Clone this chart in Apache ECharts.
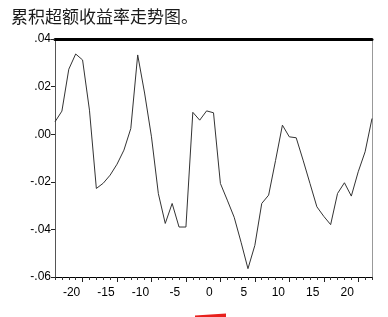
<!DOCTYPE html>
<html>
<head>
<meta charset="utf-8">
<script src="https://cdn.jsdelivr.net/npm/echarts@6/dist/echarts.min.js"></script>
<style>
html,body{margin:0;padding:0;background:#fff;}
#chart{width:388px;height:317px;}
</style>
</head>
<body>
<div id="chart"></div>
<script>
// Event-time offsets (days relative to event)
const days = [-24,-23,-22,-21,-20,-19,-18,-17,-16,-15,-14,-13,-12,-11,-10,-9,-8,-7,-6,-5,-4,-3,-2,-1,0,1,2,3,4,5,6,7,8,9,10,11,12,13,14,15,16,17,18,19,20,21,22];
// Cumulative abnormal return
const car = [0.0052,0.0097,0.0273,0.0337,0.0312,0.0101,-0.0228,-0.0206,-0.0172,-0.0126,-0.0067,0.0024,0.0333,0.0173,-0.0011,-0.0250,-0.0375,-0.0291,-0.0390,-0.0390,0.0092,0.0059,0.0098,0.0090,-0.0207,-0.0277,-0.0349,-0.0454,-0.0565,-0.0467,-0.0291,-0.0256,-0.0111,0.0038,-0.0011,-0.0015,-0.0109,-0.0207,-0.0305,-0.0345,-0.0380,-0.0249,-0.0204,-0.0260,-0.0158,-0.0074,0.0066];
const xTickLabels = [-20,-15,-10,-5,0,5,10,15,20];
const xMin = -24, xMax = 22;
const yMin = -0.06, yMax = 0.04, yStep = 0.02;
const titleText = '累积超额收益率走势图。';

function fmtY(v){
  const s = Math.abs(v).toFixed(2).replace(/^0/, '');
  return (v < -1e-9 ? '-' : '') + s;
}
const seriesData = days.map((d, i) => [d, car[i]]);

const chart = echarts.init(document.getElementById('chart'), null, {renderer:'canvas'});
chart.setOption({
  animation: false,
  backgroundColor: '#ffffff',
  title: {
    text: titleText, left: 6, top: 3,
    textStyle: {fontFamily: '"Noto Sans CJK SC", sans-serif', fontSize: 17, fontWeight: 'normal', color: '#1a1a1a'}
  },
  grid: {left: 55, right: 16, top: 39, bottom: 40},
  xAxis: [
    {
      type: 'value', min: xMin, max: xMax, position: 'bottom',
      axisLine: {show: true, onZero: false, lineStyle: {color: '#000', width: 1}},
      axisTick: {show: true, customValues: days, length: 3, lineStyle: {color: '#333', width: 1}},
      axisLabel: {customValues: xTickLabels, fontSize: 12, fontFamily: 'Arial, "Liberation Sans", sans-serif', color: '#000', margin: 10, padding: [0, 22, 0, 0]},
      splitLine: {show: false}
    },
    {
      type: 'value', min: xMin, max: xMax, position: 'bottom',
      axisLine: {show: false, onZero: false},
      axisTick: {show: true, customValues: xTickLabels, length: 5, lineStyle: {color: '#222', width: 1}},
      axisLabel: {show: false}, splitLine: {show: false}
    },
    {
      type: 'value', min: xMin, max: xMax, position: 'top',
      axisLine: {show: true, onZero: false, lineStyle: {color: '#000', width: 3}},
      axisTick: {show: false}, axisLabel: {show: false}, splitLine: {show: false}
    }
  ],
  yAxis: [
    {
      type: 'value', min: yMin, max: yMax, interval: yStep, position: 'left',
      axisLine: {show: true, onZero: false, lineStyle: {color: '#555', width: 1}},
      axisTick: {show: true, length: 4, lineStyle: {color: '#222'}},
      axisLabel: {formatter: fmtY, fontSize: 12, fontFamily: 'Arial, "Liberation Sans", sans-serif', color: '#000', margin: 4},
      splitLine: {show: false}
    },
    {
      type: 'value', min: yMin, max: yMax, interval: yStep, position: 'right',
      axisLine: {show: true, onZero: false, lineStyle: {color: '#999', width: 1}},
      axisTick: {show: false}, axisLabel: {show: false}, splitLine: {show: false}
    }
  ],
  series: [{
    type: 'line', data: seriesData, xAxisIndex: 0, yAxisIndex: 0,
    symbol: 'none', lineStyle: {color: '#333', width: 1}
  }],
  graphic: [{
    type: 'polygon', silent: true,
    shape: {points: [[195, 315.5], [226, 313.5], [226, 317], [195, 317]]},
    style: {fill: '#e8201c'}
  }]
});
</script>
</body>
</html>
